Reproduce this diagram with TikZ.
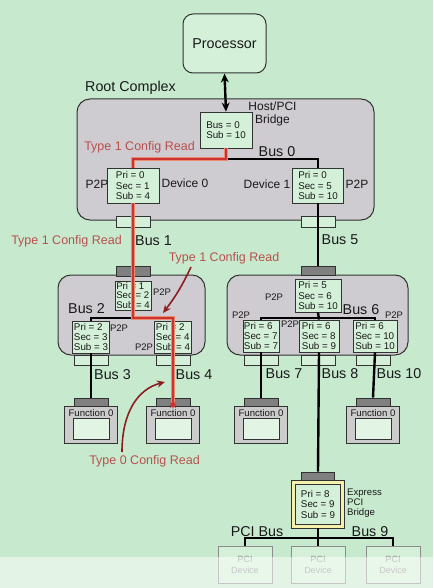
\documentclass[tikz,border=0pt]{standalone}
\usepackage{fontspec}
\setmainfont{Liberation Sans}
\usetikzlibrary{arrows.meta,shapes.geometric,calc}
\definecolor{bg}{RGB}{199,234,207}
\definecolor{boxg}{RGB}{212,240,216}
\definecolor{inner}{RGB}{226,245,229}
\definecolor{rgray}{RGB}{206,204,208}
\definecolor{fgray}{RGB}{204,204,204}
\definecolor{dgray}{RGB}{128,128,128}
\definecolor{edge}{RGB}{50,50,50}
\definecolor{txt}{RGB}{25,25,25}
\definecolor{redcore}{RGB}{205,50,50}
\definecolor{redhalo}{RGB}{236,140,110}
\definecolor{redtxt}{RGB}{185,80,78}
\definecolor{darkred}{RGB}{140,30,35}
\definecolor{yel}{RGB}{245,240,172}
\definecolor{pcigray}{RGB}{140,140,140}
\begin{document}
\begin{tikzpicture}[x=1pt,y=-1pt,
  regbox/.style={draw=edge, fill=boxg, line width=0.9pt, align=left, inner sep=0.5pt, text=txt, font=\fontsize{9.8}{10.3}\selectfont},
  conn/.style={draw=edge, fill=boxg, line width=0.8pt, minimum width=34pt, minimum height=10pt, inner sep=0pt},
  dconn/.style={conn, fill=dgray},
  biglbl/.style={font=\fontsize{14.3}{16}\selectfont, text=txt, inner sep=0pt},
  midlbl/.style={font=\fontsize{12}{13}\selectfont, text=txt, inner sep=0pt},
  smllbl/.style={font=\fontsize{9.5}{10}\selectfont, text=txt, inner sep=0pt},
  redlbl/.style={font=\fontsize{12.5}{14}\selectfont, text=redtxt, inner sep=0pt},
  grpbox/.style={draw=edge, fill=rgray, line width=1pt, rounded corners=13pt, inner sep=0pt},
  funcbox/.style={draw=edge, fill=fgray, line width=0.9pt, minimum width=53pt, minimum height=37pt, inner sep=0pt},
  funcin/.style={draw=edge, fill=inner, line width=0.8pt, minimum width=36pt, minimum height=21pt, inner sep=0pt},
  pcidev/.style={draw=pcigray, fill=boxg, line width=0.8pt, minimum width=54pt, minimum height=37pt, inner sep=0pt, align=center, text=pcigray, font=\fontsize{9}{11}\selectfont},
  busline/.style={draw=black, line width=2.4pt},
  redhalo/.style={draw=redhalo, line width=3.6pt},
  redcore/.style={draw=redcore, line width=1.4pt},
  callout/.style={draw=darkred, line width=1.6pt, -{Stealth[length=8pt,width=7pt]}}
]
\useasboundingbox (0,0) rectangle (433,588);
\fill[bg] (0,0) rectangle (433,588);

% Processor
\node[draw=edge, fill=boxg, line width=1pt, rounded corners=10pt, minimum width=83pt, minimum height=59pt, font=\fontsize{14.3}{16}\selectfont, text=txt] (proc) at (224.5,43.5) {Processor};

% Root complex
\node[biglbl, anchor=west] (rclbl) at (85,88) {Root Complex};
\node[grpbox, minimum width=297pt, minimum height=121pt] (rc) at (225.5,159.5) {};
\node[regbox, minimum width=52pt, minimum height=36pt, font=\fontsize{9.8}{10.7}\selectfont] (hb) at (226,130) {Bus = 0\\Sub = 10};
\node[midlbl, align=center, font=\fontsize{12}{13}\selectfont] (hblbl) at (272.5,113.5) {Host/PCI\\Bridge};
\node[biglbl] (bus0) at (277,152) {Bus 0};
\node[redlbl] (t1a) at (139.5,147) {Type 1 Config Read};
\node[regbox, minimum width=52pt, minimum height=35pt] (d0) at (133,185.5) {Pri = 0\\Sec = 1\\Sub = 4};
\node[regbox, minimum width=51pt, minimum height=35pt] (d1) at (318,185.5) {Pri = 0\\Sec = 5\\Sub = 10};
\node[midlbl] (p2pa) at (97,184) {P2P};
\node[midlbl] (dev0) at (185,183) {Device 0};
\node[midlbl] (dev1) at (267,184) {Device 1};
\node[midlbl] (p2pb) at (357,184) {P2P};
\node[conn, minimum height=11pt] (rc1) at (133,221.5) {};
\node[conn, minimum height=11pt] (rc2) at (318,221.5) {};

% Labels between
\node[redlbl] (t1b) at (66.5,241) {Type 1 Config Read};
\node[biglbl] (bus1) at (153.5,241) {Bus 1};
\node[biglbl] (bus5) at (340,240) {Bus 5};
\node[redlbl] (t1c) at (224,258) {Type 1 Config Read};

% Bus 2 group
\node[grpbox, minimum width=147pt, minimum height=80pt] (g2) at (131.5,315) {};
\node[dconn] (b2c) at (133,271) {};
\node[regbox, minimum width=36pt, minimum height=29pt, font=\fontsize{9.6}{9.4}\selectfont] (b2t) at (133,295.5) {Pri = 1\\Sec = 2\\Sub = 4};
\node[smllbl] (p2pc) at (162,292) {P2P};
\node[biglbl] (bus2) at (86.5,309) {Bus 2};
\node[regbox, minimum width=37pt, minimum height=32pt] (b2l) at (91,337) {Pri = 2\\Sec = 3\\Sub = 3};
\node[regbox, minimum width=37pt, minimum height=32pt] (b2r) at (173,337) {Pri = 2\\Sec = 4\\Sub = 4};
\node[smllbl] (p2pd) at (119,328) {P2P};
\node[smllbl] (p2pe) at (144,347) {P2P};
\node[conn] (b2lc) at (91,360) {};
\node[conn] (b2rc) at (173,360) {};

% Bus 6 group
\node[grpbox, minimum width=181pt, minimum height=80pt] (g6) at (317.5,315) {};
\node[dconn, minimum height=9pt] (b6c) at (318,270.5) {};
\node[regbox, minimum width=46pt, minimum height=33pt] (b6t) at (318,295.5) {Pri = 5\\Sec = 6\\Sub = 10};
\node[smllbl] (p2pf) at (274,297) {P2P};
\node[biglbl] (bus6) at (361,310) {Bus 6};
\node[regbox, minimum width=36pt, minimum height=32pt] (b6l) at (261,336) {Pri = 6\\Sec = 7\\Sub = 7};
\node[regbox, minimum width=40pt, minimum height=32pt] (b6m) at (319,336) {Pri = 6\\Sec = 8\\Sub = 9};
\node[regbox, minimum width=44pt, minimum height=32pt] (b6r) at (375,336) {Pri = 6\\Sec = 10\\Sub = 10};
\node[smllbl] (p2pg) at (241,315) {P2P};
\node[smllbl] (p2ph) at (290,324) {P2P};
\node[smllbl] (p2pi) at (394,315) {P2P};
\node[conn] (b6lc) at (261,360) {};
\node[conn] (b6mc) at (318,360) {};
\node[conn] (b6rc) at (373,360) {};

% bus labels
\node[biglbl] (bus3) at (112.5,375) {Bus 3};
\node[biglbl] (bus4) at (194,375) {Bus 4};
\node[biglbl] (bus7) at (284,374) {Bus 7};
\node[biglbl] (bus8) at (340,374) {Bus 8};
\node[biglbl] (bus10) at (399,374) {Bus 10};

% Functions
\foreach \n/\x in {1/91,2/173,3/261,4/373}{
  \node[dconn, minimum height=9pt] (f\n c) at (\x,402.5) {};
  \node[funcbox] (f\n) at (\x,424.5) {};
  \node[smllbl, font=\fontsize{9.6}{10}\selectfont] (f\n l) at (\x,413) {Function 0};
  \node[funcin] (f\n i) at (\x,428.5) {};
}
\node[redlbl] (t0) at (144.5,461) {Type 0 Config Read};

% Express PCI bridge
\node[dconn, minimum height=9pt, minimum width=33pt] (xbc) at (318,476.5) {};
\node[draw=edge, fill=yel, line width=0.9pt, minimum width=53pt, minimum height=48pt, inner sep=0pt] (xb) at (318,504) {};
\node[regbox, minimum width=45pt, minimum height=40pt, font=\fontsize{9.8}{10.5}\selectfont] (xbi) at (318,504) {Pri = 8\\Sec = 9\\Sub = 9};
\node[smllbl, anchor=west, align=left, font=\fontsize{9.6}{10}\selectfont] (xlbl) at (347,503) {Express\\PCI\\Bridge};
\node[biglbl] (pcibus) at (257,532) {PCI Bus};
\node[biglbl] (bus9) at (370,532) {Bus 9};
\node[pcidev] (pd1) at (245,564.5) {PCI\\Device};
\node[pcidev] (pd2) at (318,564.5) {PCI\\Device};
\node[pcidev] (pd3) at (393,564.5) {PCI\\Device};

% coordinates
\coordinate (bj0) at (226,159);
\coordinate (rb1) at (133,159);
\coordinate (b2j) at (133,318);
\coordinate (rb3) at (173,318);
\coordinate (b6j) at (318,318);
\coordinate (pcij) at (318,538);
\coordinate (a1s) at (191,267);
\coordinate (a1e) at (163,313);
\coordinate (a0s) at (122,452);
\coordinate (a0e) at (165,382);

% black connections
\draw[black, line width=2.4pt, {Stealth[length=9pt,width=8pt]}-{Stealth[length=9pt,width=8pt]}] (proc.south) -- (hb.north);
\draw[busline] (bj0) -| (d1.north);
\draw[busline] (d1.south) -- (b6c.north);
\draw[busline] (b2j) -| (b2l.north);
\draw[busline] (b2l.south) -- (f1c.north);
\draw[busline] (b6l.north) |- (b6j) -| (b6r.north);
\draw[busline] (b6t.south) -- (b6m.north);
\draw[busline] (b6l.south) -- (f3c.north);
\draw[busline] (b6r.south) -- (f4c.north);
\draw[busline] (b6m.south) -- (xbc.north);
\draw[busline] (xb.south) -- (pcij);
\draw[busline] (pd1.north) |- (pcij) -| (pd3.north);
\draw[busline] (pcij) -- (pd2.north);

% red config path
\foreach \s in {redhalo,redcore}{
  \draw[\s] (hb.south) -- (bj0) -- (rb1) -- (d0.north);
  \draw[\s] (d0.south) -- (b2j) -- (rb3) -- (f2c.south);
}
\node[star, star points=8, star point ratio=2.2, fill=redcore, minimum size=8pt, inner sep=0pt] (rstar) at (173,405) {};

% callout arrows
\draw[callout] (a1s) to[bend left=6] (a1e);
\draw[callout] (a0s) .. controls (122,412) and (138,389) .. (a0e);

% faded band at bottom
\fill[white, opacity=0.5] (0,557) rectangle (433,588);
\end{tikzpicture}
\end{document}
